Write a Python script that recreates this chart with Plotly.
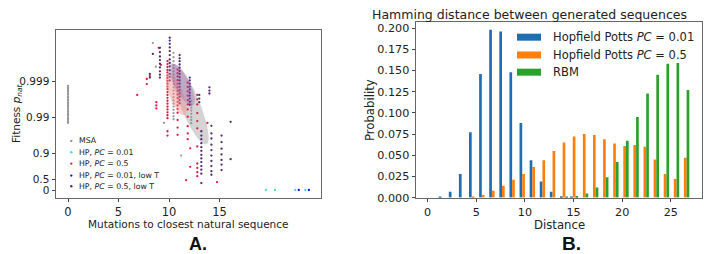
import numpy as np
import plotly.graph_objects as go

W, H = 717, 254

# ---------------- Panel A data (x: mutations, y: -log10(1 - p_nat)) ----------------
# columns of points: (mutations, [fitness values on -log10(1-p) scale])
msa_cols = [
    (0.0, [1.85, 1.89, 1.93, 1.96, 2.0, 2.05, 2.09, 2.12, 2.16, 2.2, 2.25, 2.29, 2.33,
           2.37, 2.41, 2.46, 2.5, 2.54, 2.58, 2.63, 2.67, 2.71, 2.75, 2.79, 2.83, 2.87]),
    (10.45, [3.78, 3.66, 3.55, 3.44, 3.36, 3.27, 3.18, 3.09, 3.0, 2.92, 2.83, 2.74, 2.65,
             2.56, 2.47, 2.38, 2.3, 2.21, 2.12, 2.03, 1.95]),
    (12.2, [2.45, 2.36, 2.27, 2.19, 2.1, 2.01, 1.93, 1.84]),
    (11.2, [0.95]), (8.4, [4.05]), (8.7, [3.4]), (9.5, [1.85]),
]
hp001_cols = [(19.6, [0.0]), (20.5, [0.0]), (22.5, [0.0]), (23.5, [0.0])]
hp05_cols = [
    (6.85, [2.62]), (7.8, [3.06, 2.92]), (8.1, [3.14]), (8.75, [2.42, 2.33, 2.25]),
    (8.98, [3.92]), (9.2, [3.45]),
    (9.85, [3.55, 3.47, 3.39, 3.31, 3.24, 3.16, 3.09, 3.01, 2.93, 2.85, 2.78, 2.7, 2.62,
            2.54, 2.46, 2.38, 2.3, 2.22, 2.14, 2.06, 1.98, 1.62, 1.5]),
    (10.85, [3.32, 3.22, 3.13, 3.03, 2.93, 2.83, 2.73, 2.63, 2.53, 2.43, 2.33, 2.23, 2.13,
             1.93, 1.72, 1.52]),
    (11.85, [2.96, 2.84, 2.72, 2.6, 2.48, 2.36, 2.22, 2.02, 1.76, 1.56, 1.4]),
    (12.8, [2.62, 2.5, 2.36, 2.12, 1.9, 1.7, 1.2, 0.73, 0.61, 0.49, 0.38]),
    (11.7, [0.27]), (12.1, [0.64, 1.15]), (14.75, [0.22]), (13.8, [1.85]),
]
hp001_lowT_cols = [(22.85, [0.0]), (23.85, [0.0])]
hp05_lowT_cols = [
    (9.1, [3.92, 3.8, 3.68, 3.58, 3.48, 3.38, 3.27, 3.18, 3.1]),
    (10.07, [4.2, 4.12, 4.03, 3.93, 3.83, 3.72, 3.6, 3.5, 3.41, 3.3, 3.2, 3.12, 3.02]),
    (11.05, [3.72, 3.63, 3.55, 3.46, 3.37, 3.28, 3.2, 3.11, 3.02, 2.93, 2.84, 2.75, 2.66,
             2.57, 2.48, 2.39]),
    (12.05, [3.1, 3.02, 2.93, 2.85, 2.77, 2.68, 2.6, 2.52, 2.43, 2.35]),
    (13.0, [2.62, 2.52, 2.42]), (14.0, [2.83, 2.74, 2.66]),
    (8.1, [3.1, 3.2]), (8.4, [3.75]),
    (13.2, [1.62, 1.5, 1.4, 1.29, 1.18, 1.08, 0.97, 0.87, 0.77, 0.66, 0.56, 0.45, 0.19]),
    (14.2, [1.77, 1.56, 1.42, 1.25, 1.1, 0.95, 0.8, 0.66, 0.52, 0.42]),
    (15.2, [1.5, 1.32, 1.14, 0.98, 0.83, 0.7, 0.55]),
    (16.1, [1.88, 0.85]),
]
# confidence ellipses: centre (x, y), major half-axis (dx, dy), minor/major ratio
ellipses = [
    ((12.08, 2.36), (1.62, -1.10), 0.22, "rgba(160,160,160,0.45)"),
    ((10.72, 2.64), (0.83, -0.58), 0.30, "rgba(245,140,140,0.45)"),
    ((11.30, 2.91), (1.07, -0.58), 0.32, "rgba(150,90,170,0.35)"),
]
fitness_ticks = [0, 0.5, 0.9, 0.99, 0.999]
fitness_tick_text = ["0", "0.5", "0.9", "0.99", "0.999"]
mut_ticks = [0, 5, 10, 15]

# ---------------- Panel B data ----------------
bin_edges = np.linspace(0, 27, 27)
p_hp001 = [0, 0.0005, 0.007, 0.028, 0.077, 0.146, 0.198, 0.196, 0.148, 0.088, 0.044,
           0.019, 0.007, 0.0015, 0.0003, 0, 0, 0, 0, 0, 0, 0, 0, 0, 0, 0]
p_hp05 = [0, 0, 0, 0, 0.001, 0.003, 0.008, 0.014, 0.021, 0.028, 0.036, 0.044, 0.055,
          0.065, 0.072, 0.075, 0.074, 0.069, 0.064, 0.061, 0.062, 0.060, 0.045, 0.028,
          0.022, 0.047]
p_rbm = [0, 0, 0, 0, 0, 0, 0, 0, 0, 0, 0, 0, 0, 0.0003, 0.002, 0.005, 0.012, 0.024,
         0.042, 0.067, 0.095, 0.123, 0.145, 0.158, 0.159, 0.127]
dist_ticks = [0, 5, 10, 15, 20, 25]
bar_names = ["Hopfield Potts <i>PC</i> = 0.01", "Hopfield Potts <i>PC</i> = 0.5", "RBM"]
bar_colors = ["#1f6eb2", "#ff7f0e", "#2ca02c"]

# ---------------- helpers ----------------
FONT = "DejaVu Sans"
def px(x):
    return x / W
def py(y):
    return 1 - y / H

def flat(cols):
    xs, ys = [], []
    for x, vals in cols:
        for v in vals:
            xs.append(x)
            ys.append(v)
    return xs, ys

fig = go.Figure()

SX, SY = 10.1, 37.3  # px per unit on panel A axes (for ellipse shape)
t = np.linspace(0, 2 * np.pi, 80)

def add_ellipse(e):
    (cx, cy), (dx, dy), r, col = e
    ux, uy = dx * SX, dy * SY
    vx, vy = -uy * r, ux * r
    ex = cx + (np.cos(t) * ux + np.sin(t) * vx) / SX
    ey = cy + (np.cos(t) * uy + np.sin(t) * vy) / SY
    fig.add_trace(go.Scatter(x=ex, y=ey, mode="lines", fill="toself", fillcolor=col,
                             line=dict(width=0), hoverinfo="skip", showlegend=False,
                             xaxis="x", yaxis="y"))

add_ellipse(ellipses[0])

series = [
    (msa_cols, "#999999", "MSA"),
    (hp05_cols, "#e31a3c", "HP, PC = 0.5"),
    (hp05_lowT_cols, "#4e2a70", "HP, PC = 0.5, low T"),
    (hp001_cols, "#40e0d0", "HP, PC = 0.01"),
    (hp001_lowT_cols, "#1010d8", "HP, PC = 0.01, low T"),
]
for cols, color, name in series:
    xs, ys = flat(cols)
    fig.add_trace(go.Scatter(x=xs, y=ys, mode="markers", name=name, showlegend=False,
                             marker=dict(size=2.3, color=color, symbol="circle", line=dict(width=0)),
                             xaxis="x", yaxis="y"))

for e in ellipses[1:]:
    add_ellipse(e)

centers = (bin_edges[:-1] + bin_edges[1:]) / 2
for vals, name, color in zip([p_hp001, p_hp05, p_rbm], bar_names, bar_colors):
    fig.add_trace(go.Bar(x=centers, y=vals, name=name, marker=dict(color=color, line=dict(width=0)),
                         showlegend=False, xaxis="x2", yaxis="y2"))

def ax(size):
    return dict(showline=True, mirror=True, linecolor="#666", linewidth=1, ticks="outside",
                ticklen=3.5, tickcolor="#444", showgrid=False, zeroline=False,
                tickfont=dict(family=FONT, size=size, color="#222"))

fig.update_layout(
    width=W, height=H, margin=dict(l=0, r=0, t=0, b=0),
    paper_bgcolor="white", plot_bgcolor="white",
    barmode="group", bargap=0.2, bargroupgap=0,
    font=dict(family=FONT, color="#222"),
    xaxis=dict(domain=[px(48), px(313)], range=[-1.19, 25.05], tickvals=mut_ticks,
               anchor="y", **ax(11.5)),
    yaxis=dict(domain=[py(195), py(23)], range=[-0.21, 4.40],
               tickvals=[-np.log10(1 - p) for p in fitness_ticks], ticktext=fitness_tick_text,
               anchor="x", **ax(10.5)),
    xaxis2=dict(domain=[px(408), px(694)], range=[-1.19, 28.2], tickvals=dist_ticks,
                anchor="y2", **ax(11.2)),
    yaxis2=dict(domain=[py(195), py(14)], range=[0, 0.2077], dtick=0.025, tick0=0,
                tickformat=".3f", anchor="x2", **ax(11.2)),
)

annotations = []
shapes = []

def label(text, x, y, size, angle=0, anchor="center", family=FONT, color="#222"):
    annotations.append(dict(text=text, x=px(x), y=py(y), xref="paper", yref="paper",
                            showarrow=False, xanchor=anchor, yanchor="middle", textangle=angle,
                            font=dict(family=family, size=size, color=color)))

# axis titles
label("Mutations to closest natural sequence", 180.5, 222, 10.5)
label("Fitness <i>p</i><sub><i>nat</i></sub>", 9, 108, 10.5, angle=-90)
label("Distance", 551, 223, 11.7)
label("Probability", 362, 105, 11.7, angle=-90)
# title of panel B
label("Hamming distance between generated sequences", 521, 7, 12.5)
# legend of panel B
for i, (name, color) in enumerate(zip(bar_names, bar_colors)):
    yc = [30, 48.3, 66][i]
    shapes.append(dict(type="rect", xref="paper", yref="paper", x0=px(509), x1=px(533),
                       y0=py(yc + 3.6), y1=py(yc - 3.6), fillcolor=color, line=dict(width=0)))
    label(name, 542.5, yc, 11.5, anchor="left")
# legend of panel A
legA = [("MSA", "#999999"), ("HP, <i>PC</i> = 0.01", "#40e0d0"), ("HP, <i>PC</i> = 0.5", "#e31a3c"),
        ("HP, <i>PC</i> = 0.01, low T", "#1010d8"), ("HP, <i>PC</i> = 0.5, low T", "#4e2a70")]
for i, (name, color) in enumerate(legA):
    yc = [136.7, 148.3, 160, 172.3, 183.3][i]
    shapes.append(dict(type="circle", xref="paper", yref="paper", x0=px(62.1), x1=px(64.5),
                       y0=py(yc + 1.2), y1=py(yc - 1.2), fillcolor=color, line=dict(width=0)))
    label(name, 68.5, yc, 7.8, anchor="left")
# panel labels
label("<b>A.</b>", 189.5, 243, 18, family="Liberation Sans", color="#111")
label("<b>B.</b>", 563, 242, 19, family="Liberation Sans", color="#111")
fig.update_layout(annotations=annotations, shapes=shapes)

fig.write_html("out.html")
